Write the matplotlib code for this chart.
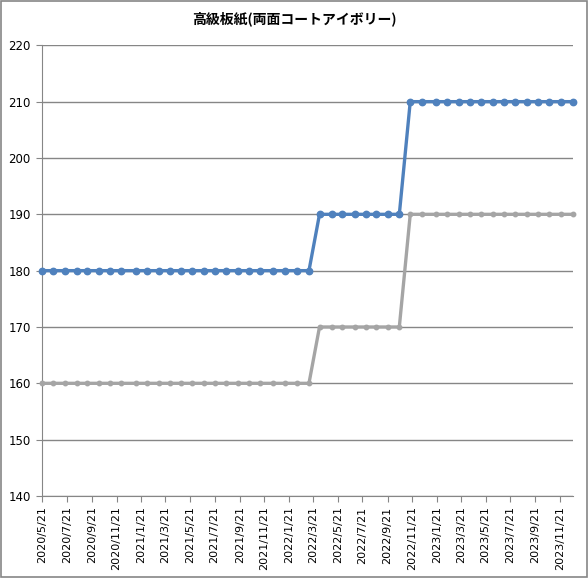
import numpy as np
import pandas as pd
import matplotlib
matplotlib.use("Agg")
import matplotlib.pyplot as plt
from matplotlib.patches import Rectangle

plt.rcParams['font.family'] = ['DejaVu Sans', 'Noto Sans CJK JP']

# data
dates = ["2020-05-21", "2020-06-17", "2020-07-17", "2020-08-15", "2020-09-10",
         "2020-10-09", "2020-11-05", "2020-12-03", "2021-01-09", "2021-02-05",
         "2021-03-05", "2021-04-02", "2021-04-30", "2021-05-27", "2021-06-24",
         "2021-07-22", "2021-08-19", "2021-09-16", "2021-10-14", "2021-11-11",
         "2021-12-11", "2022-01-12", "2022-02-10", "2022-03-11", "2022-04-06",
         "2022-05-07", "2022-06-01", "2022-07-02", "2022-07-29", "2022-08-24",
         "2022-09-23", "2022-10-20", "2022-11-16", "2022-12-16", "2023-01-19",
         "2023-02-15", "2023-03-17", "2023-04-13", "2023-05-10", "2023-06-08",
         "2023-07-06", "2023-08-02", "2023-08-31", "2023-09-28", "2023-10-25",
         "2023-11-24", "2023-12-22"]
blue_values = [180] * 24 + [190] * 8 + [210] * 15
gray_values = [160] * 24 + [170] * 8 + [190] * 15

tick_labels = ["2020/5/21", "2020/7/21", "2020/9/21", "2020/11/21",
               "2021/1/21", "2021/3/21", "2021/5/21", "2021/7/21",
               "2021/9/21", "2021/11/21", "2022/1/21", "2022/3/21",
               "2022/5/21", "2022/7/21", "2022/9/21", "2022/11/21",
               "2023/1/21", "2023/3/21", "2023/5/21", "2023/7/21",
               "2023/9/21", "2023/11/21"]
title = "高級板紙(両面コートアイボリー)"

x = pd.to_datetime(dates)
tick_dates = pd.to_datetime(tick_labels, format="%Y/%m/%d")

fig = plt.figure(figsize=(5.88, 5.78), dpi=100)
ax = fig.add_axes([0.0714, 0.1419, 0.9026, 0.7797])

ax.plot(x, gray_values, color="#A5A5A5", lw=2.4, marker="o", ms=3.2,
        solid_joinstyle="round", zorder=3, clip_on=False)
ax.plot(x, blue_values, color="#4F81BD", lw=2.4, marker="o", ms=4.6,
        solid_joinstyle="round", zorder=4, clip_on=False)

ax.set_ylim(140, 220)
ax.set_yticks(np.arange(140, 221, 10))
ax.set_xlim(x[0], x[-1])
ax.set_xticks(tick_dates)
ax.set_xticklabels(tick_labels, rotation=90)

ax.grid(axis="y", color="#868686", lw=1)
ax.set_axisbelow(True)
for side in ["top", "right"]:
    ax.spines[side].set_visible(False)
for side in ["left", "bottom"]:
    ax.spines[side].set_color("#868686")
ax.tick_params(axis="both", colors="#868686", labelcolor="black",
               labelsize=8, length=4, direction="out")
ax.tick_params(axis="y", pad=4, labelsize=8.5)

fig.text(0.5, 0.968, title, ha="center", va="center", fontsize=10,
         fontweight="bold", family=["Noto Sans CJK JP", "DejaVu Sans"])

# outer border of the chart
fig.patches.append(Rectangle((0.001, 0.001), 0.998, 0.998, transform=fig.transFigure,
                             fill=False, edgecolor="#868686", lw=1.2))

fig.savefig("out.png", dpi=100)
